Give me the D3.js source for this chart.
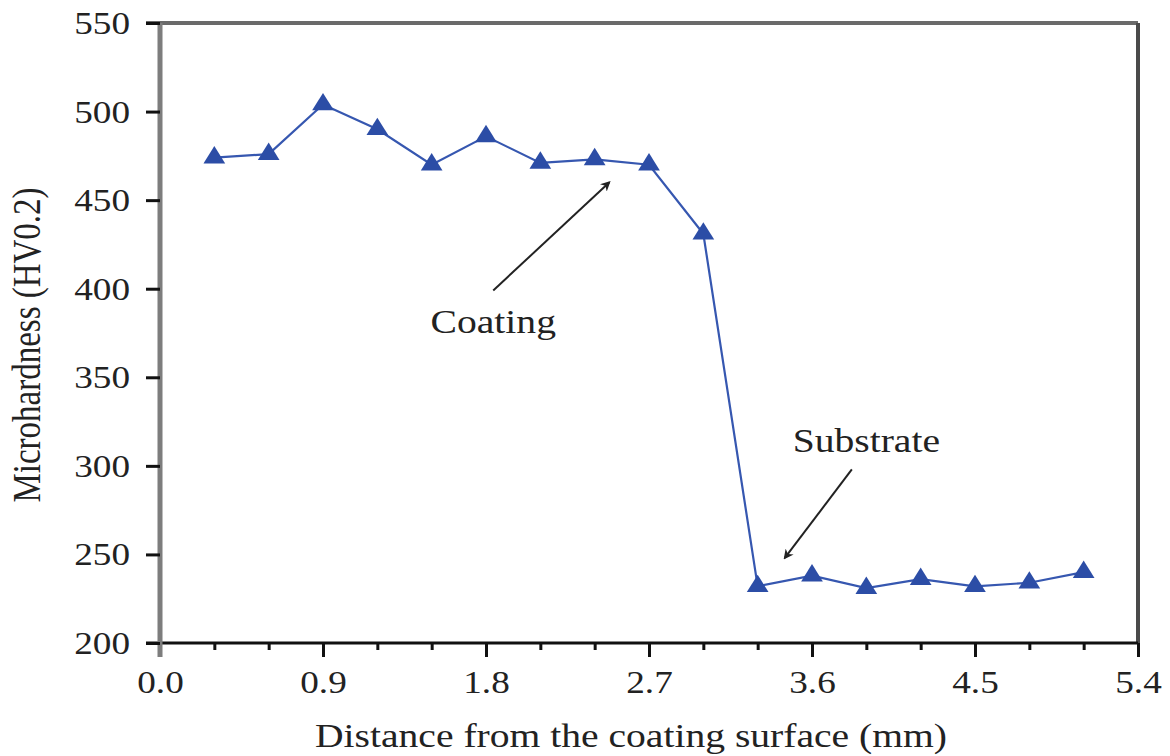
<!DOCTYPE html>
<html>
<head>
<meta charset="utf-8">
<script src="https://cdn.jsdelivr.net/npm/d3@7"></script>
<style>
  html, body { margin: 0; padding: 0; background: #fff; }
  svg { display: block; }
  text { font-family: "Liberation Serif", "Times New Roman", serif; fill: #222; }
</style>
</head>
<body>
<svg id="chart" width="1170" height="756"></svg>
<script>
// Microhardness profile across the coating / substrate interface
const distance = [0.3, 0.6, 0.9, 1.2, 1.5, 1.8, 2.1, 2.4, 2.7, 3.0, 3.3, 3.6, 3.9, 4.2, 4.5, 4.8, 5.1];
const hardness = [474, 476, 504, 490, 470, 486, 471, 473, 470, 431, 232, 238, 231, 236, 232, 234, 240];
const xTicks = [0.0, 0.9, 1.8, 2.7, 3.6, 4.5, 5.4];
const xMinorTicks = [0.3, 0.6, 1.2, 1.5, 2.1, 2.4, 3.0, 3.3, 3.9, 4.2, 4.8, 5.1];
const yTicks = [200, 250, 300, 350, 400, 450, 500, 550];
const annotations = [
  { label: "Coating", tx: 1.84, ty: 375, from: [1.84, 399], to: [2.48, 460] },
  { label: "Substrate", tx: 3.9, ty: 308, from: [3.82, 298], to: [3.45, 248] }
];

const sx = 1.2; // horizontal glyph stretch
const svg = d3.select("#chart");
const L = 160, R = 1138, T = 23, B = 643;

const x = d3.scaleLinear().domain([0, 5.4]).range([L, R]);
const y = d3.scaleLinear().domain([200, 550]).range([B, T]);

// arrow marker
svg.append("defs").append("marker")
  .attr("id", "arrow").attr("viewBox", "0 0 10 10")
  .attr("refX", 8).attr("refY", 5)
  .attr("markerWidth", 5).attr("markerHeight", 5)
  .attr("orient", "auto")
  .append("path").attr("d", "M0,0 L10,5 L0,10 L3,5 Z").attr("fill", "#222");

// frame: top and right
svg.append("line").attr("x1", 146).attr("x2", R).attr("y1", T).attr("y2", T)
  .attr("stroke", "#6a6a6a").attr("stroke-width", 4);
svg.append("line").attr("x1", R).attr("x2", R).attr("y1", T).attr("y2", B)
  .attr("stroke", "#4a4a4a").attr("stroke-width", 4);

// x axis
const gx = svg.append("g").attr("transform", `translate(0,${B})`)
  .call(d3.axisBottom(x).tickValues(xTicks).tickSize(14).tickFormat(d3.format(".1f")));
gx.select(".domain").attr("stroke", "#111").attr("stroke-width", 3)
  .attr("d", `M146,0H${R}`);
gx.selectAll(".tick line").attr("stroke", "#111").attr("stroke-width", 3);
gx.selectAll(".tick text")
  .attr("y", 50).attr("dy", 0)
  .attr("transform", `scale(${sx},1)`)
  .style("font-size", "31px").attr("fill", "#333");

const gxm = svg.append("g").attr("transform", `translate(0,${B})`)
  .call(d3.axisBottom(x).tickValues(xMinorTicks).tickSize(7).tickFormat(""));
gxm.select(".domain").remove();
gxm.selectAll(".tick line").attr("stroke", "#111").attr("stroke-width", 3);

// y axis
const gy = svg.append("g").attr("transform", `translate(${L},0)`)
  .call(d3.axisLeft(y).tickValues(yTicks).tickSize(14));
gy.select(".domain").attr("stroke", "#7d7d7d").attr("stroke-width", 5)
  .attr("d", `M0,${T}V657`);
gy.selectAll(".tick line").attr("stroke", "#111").attr("stroke-width", 3);
gy.selectAll(".tick text")
  .attr("x", -30 / sx).attr("dy", "0.34em")
  .attr("transform", `scale(${sx},1)`)
  .style("font-size", "31px").attr("fill", "#333");

svg.selectAll(".tick text").style("font-family", "'Liberation Serif', serif");

// axis titles
svg.append("text")
  .attr("transform", `translate(631,747) scale(${sx},1)`)
  .attr("text-anchor", "middle").style("font-size", "33px")
  .text("Distance from the coating surface (mm)");
svg.append("text")
  .attr("transform", `translate(40,345) scale(${sx},1) rotate(-90)`)
  .attr("text-anchor", "middle").style("font-size", "33px")
  .text("Microhardness (HV0.2)");

// data line
const line = d3.line().x((d, i) => x(distance[i])).y(d => y(d));
svg.append("path").datum(hardness)
  .attr("d", line).attr("fill", "none")
  .attr("stroke", "#3657b0").attr("stroke-width", 2.2);

// triangle markers
const tri = d3.symbol().type(d3.symbolTriangle).size(175);
svg.append("g").selectAll("path").data(hardness).join("path")
  .attr("d", tri)
  .attr("transform", (d, i) => `translate(${x(distance[i])},${y(d)}) scale(1.08,1)`)
  .attr("fill", "#2c4da6");

// annotations
annotations.forEach(a => {
  svg.append("line")
    .attr("x1", x(a.from[0])).attr("y1", y(a.from[1]))
    .attr("x2", x(a.to[0])).attr("y2", y(a.to[1]))
    .attr("stroke", "#222").attr("stroke-width", 2)
    .attr("marker-end", "url(#arrow)");
  svg.append("text")
    .attr("transform", `translate(${x(a.tx)},${y(a.ty)}) scale(${sx},1)`)
    .attr("text-anchor", "middle").style("font-size", "33px")
    .text(a.label);
});
</script>
</body>
</html>
